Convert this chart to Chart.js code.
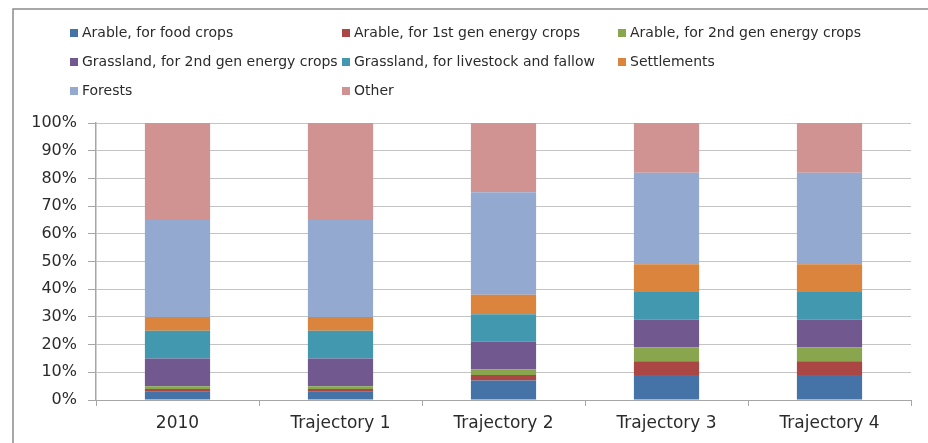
<!DOCTYPE html>
<html>
<head>
<meta charset="utf-8">
<script src="https://cdn.jsdelivr.net/npm/chart.js@4/dist/chart.umd.min.js"></script>
<style>
  html, body { margin: 0; padding: 0; background: #fff; overflow: hidden; }
  #wrap { width: 928px; height: 443px; position: relative; }
</style>
</head>
<body>
<div id="wrap"><canvas id="c" width="928" height="443"></canvas></div>
<script>
// Land use shares (% of total area) per scenario
const categories = ['2010', 'Trajectory 1', 'Trajectory 2', 'Trajectory 3', 'Trajectory 4'];

const foodCrops        = [3, 3, 7, 9, 9];
const energy1stGen     = [1, 1, 2, 5, 5];
const energy2ndGen     = [1, 1, 2, 5, 5];
const grass2ndGen      = [10, 10, 10, 10, 10];
const grassLivestock   = [10, 10, 10, 10, 10];
const settlements      = [5, 5, 7, 10, 10];
const forests          = [35, 35, 37, 33, 33];
const other            = [35, 35, 25, 18, 18];

const seriesNames = [
  'Arable, for food crops',
  'Arable, for 1st gen energy crops',
  'Arable, for 2nd gen energy crops',
  'Grassland, for 2nd gen energy crops',
  'Grassland, for livestock and fallow',
  'Settlements',
  'Forests',
  'Other'
];
const seriesValues = [foodCrops, energy1stGen, energy2ndGen, grass2ndGen, grassLivestock, settlements, forests, other];
const seriesColors = ['#4572A7', '#AA4643', '#89A54E', '#71588F', '#4198AF', '#DB843D', '#93A9CF', '#D19392'];

const yTicks = [0, 10, 20, 30, 40, 50, 60, 70, 80, 90, 100];

const FONT = '"DejaVu Sans", "Liberation Sans", sans-serif';
const TEXT = '#2b2b2b';

// Outer frame (left and top edges) and the three-column legend drawn on the canvas
const framePlugin = {
  id: 'frameAndLegend',
  beforeDraw(chart) {
    const ctx = chart.ctx;
    ctx.save();
    ctx.fillStyle = '#fff';
    ctx.fillRect(0, 0, chart.width, chart.height);
    ctx.strokeStyle = '#8c8c8c';
    ctx.lineWidth = 1.5;
    ctx.beginPath();
    ctx.moveTo(13, chart.height);
    ctx.lineTo(13, 9);
    ctx.lineTo(chart.width, 9);
    ctx.stroke();
    ctx.restore();
  },
  afterDraw(chart) {
    const ctx = chart.ctx;
    const colX = [70, 342, 618];
    const rowY = [33, 62, 91];
    ctx.save();
    ctx.font = '14px ' + FONT;
    ctx.textBaseline = 'middle';
    chart.data.datasets.forEach((ds, i) => {
      const x = colX[i % 3];
      const y = rowY[Math.floor(i / 3)];
      ctx.fillStyle = ds.backgroundColor;
      ctx.fillRect(x, y - 4, 8, 8);
      ctx.fillStyle = TEXT;
      ctx.fillText(ds.label, x + 12, y + 0.5);
    });
    ctx.restore();
  }
};

new Chart(document.getElementById('c'), {
  type: 'bar',
  data: {
    labels: categories,
    datasets: seriesNames.map((name, i) => ({
      label: name,
      data: seriesValues[i],
      backgroundColor: seriesColors[i],
      borderWidth: 0,
      barPercentage: 0.8,
      categoryPercentage: 0.5
    }))
  },
  options: {
    responsive: false,
    animation: false,
    devicePixelRatio: 1,
    layout: { padding: { left: 0, top: 123, right: 17, bottom: 0 } },
    plugins: {
      legend: { display: false },
      tooltip: { enabled: false }
    },
    scales: {
      x: {
        stacked: true,
        offset: true,
        grid: {
          offset: true,
          drawOnChartArea: false,
          drawTicks: true,
          tickLength: 6,
          color: '#a6a6a6'
        },
        border: { display: true, color: '#a6a6a6', width: 1 },
        ticks: {
          color: TEXT,
          font: { family: FONT, size: 17 },
          padding: 7,
          maxRotation: 0
        },
        afterFit(scale) { scale.height = 43; }
      },
      y: {
        stacked: true,
        min: 0,
        max: 100,
        afterBuildTicks(scale) { scale.ticks = yTicks.map(v => ({ value: v })); },
        grid: {
          color: '#c4c4c4',
          lineWidth: 1,
          drawTicks: true,
          tickLength: 8,
          tickColor: '#a6a6a6'
        },
        border: { display: true, color: '#a6a6a6', width: 1.5 },
        ticks: {
          color: TEXT,
          font: { family: FONT, size: 16 },
          padding: 11,
          callback: v => v + '%'
        },
        afterFit(scale) { scale.width = 96; }
      }
    }
  },
  plugins: [framePlugin]
});
</script>
</body>
</html>
